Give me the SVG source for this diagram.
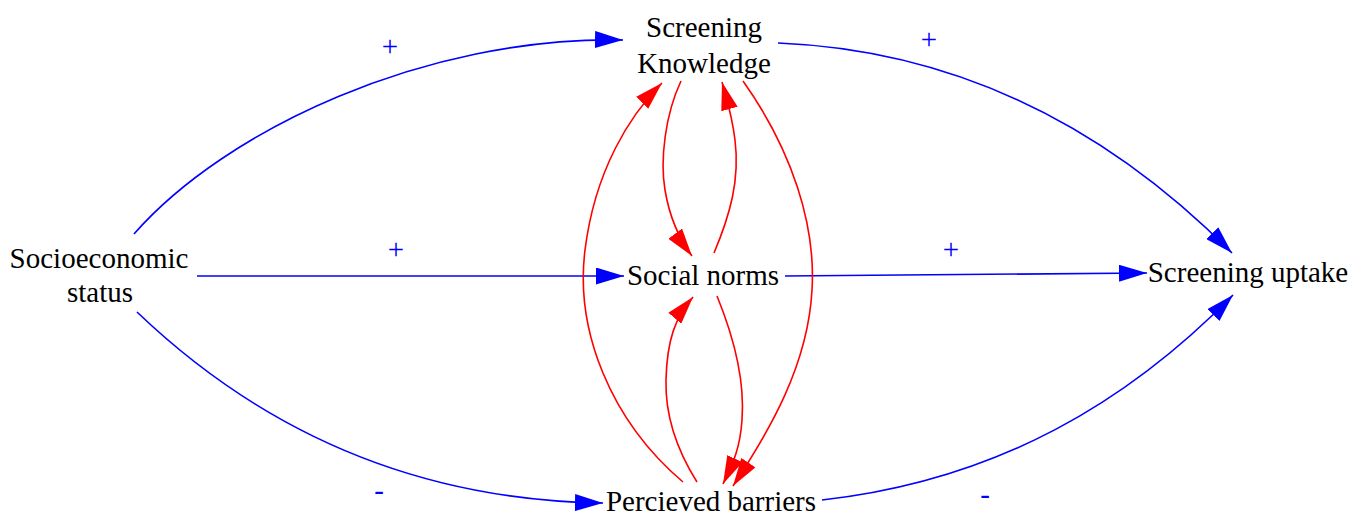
<svg xmlns="http://www.w3.org/2000/svg" width="1363" height="518" viewBox="0 0 1363 518">
<style>
text{font-family:"Liberation Serif","Times New Roman",serif;font-size:29px;text-anchor:middle}
.node text{fill:#000}
.lbl{fill:#0000ff}
.b{fill:none;stroke:#0000ff;stroke-width:1.6;marker-end:url(#ab)}
.r{fill:none;stroke:#ff0000;stroke-width:1.6;marker-end:url(#ar)}
</style>
<defs>
<marker id="ab" markerUnits="userSpaceOnUse" markerWidth="28" markerHeight="17" viewBox="0 0 28 17" refX="28" refY="8.5" orient="auto"><path d="M0,0 L28,8.5 L0,17 z" fill="#0000ff"/></marker>
<marker id="ar" markerUnits="userSpaceOnUse" markerWidth="28" markerHeight="17" viewBox="0 0 28 17" refX="28" refY="8.5" orient="auto"><path d="M0,0 L28,8.5 L0,17 z" fill="#ff0000"/></marker>
</defs>
<rect width="1363" height="518" fill="#fff"/>
<g id="connectors">
<path class="b" d="M134,234 C225,130 425,36 623,40"/>
<path class="b" d="M197,276 L624,276"/>
<path class="b" d="M137,312 C250,420 400,500 603,503"/>
<path class="b" d="M778,43 C950,50 1100,120 1232,253"/>
<path class="b" d="M785,276 L1147,273"/>
<path class="b" d="M822,500 C1000,480 1130,400 1233,295"/>
<path class="r" d="M683,482 C610,420 575,330 585,250 C595,170 630,115 662,83"/>
<path class="r" d="M681,81 C665,115 660,160 665,190 C670,220 680,240 692,256"/>
<path class="r" d="M714,253 C730,215 740,180 735,140 C732,115 727,100 722,82"/>
<path class="r" d="M743,81 C792,150 816,225 812,290 C808,365 770,430 733,486"/>
<path class="r" d="M697,482 C680,455 665,420 666,380 C667,340 675,318 693,297"/>
<path class="r" d="M717,296 C735,340 745,380 742,420 C740,450 732,465 723,484"/>
<text class="lbl" x="390" y="56">+</text>
<text class="lbl" x="396" y="259">+</text>
<text class="lbl" x="379" y="500">-</text>
<text class="lbl" x="929" y="49">+</text>
<text class="lbl" x="951" y="259">+</text>
<text class="lbl" x="985" y="504">-</text>
</g>
<g id="socioeconomic" class="node"><text x="99" y="268">Socioeconomic</text><text x="100" y="302">status</text></g>
<g id="knowledge" class="node"><text x="704" y="37">Screening</text><text x="704" y="73">Knowledge</text></g>
<g id="norms" class="node"><text x="703" y="285">Social norms</text></g>
<g id="uptake" class="node"><text x="1248" y="282">Screening uptake</text></g>
<g id="barriers" class="node"><text x="711" y="511">Percieved barriers</text></g>
</svg>
